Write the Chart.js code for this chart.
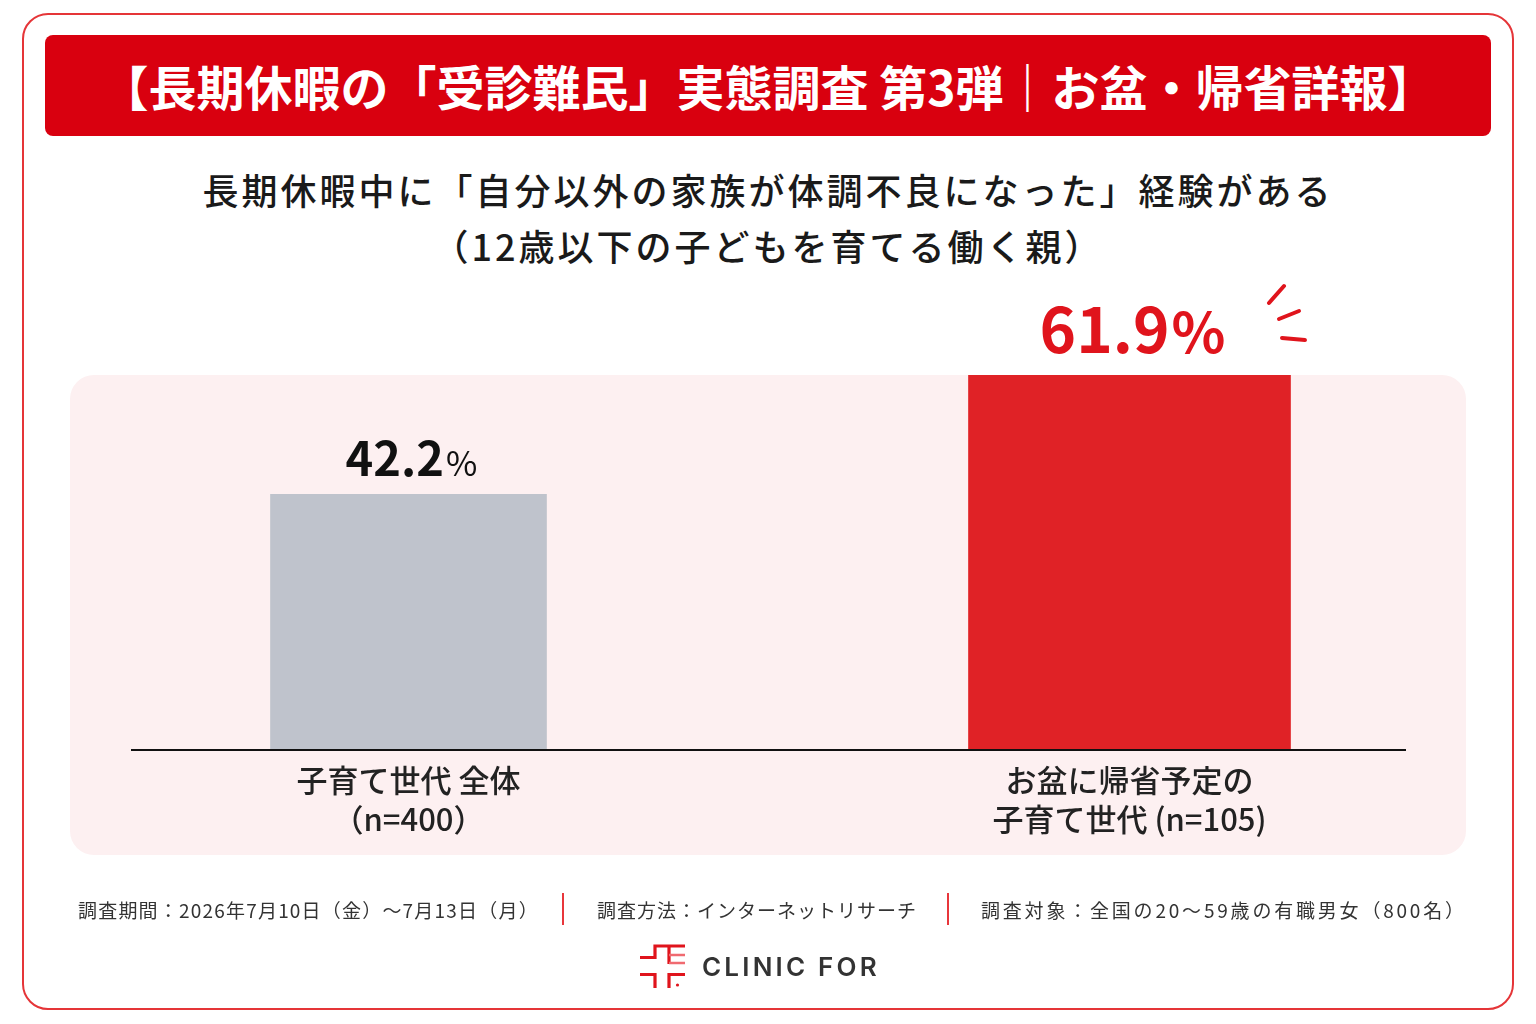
<!DOCTYPE html>
<html lang="ja">
<head>
<meta charset="utf-8">
<script src="https://cdn.jsdelivr.net/npm/chart.js@4.4.1/dist/chart.umd.min.js"></script>
<style>
  html,body{margin:0;padding:0;background:#fff;}
  body{width:1536px;height:1024px;position:relative;overflow:hidden;font-family:"Noto Sans CJK JP","Noto Sans",sans-serif;}
  .frame{position:absolute;left:22px;top:13px;width:1488px;height:993px;border:2px solid #E53538;border-radius:26px;}
  .titlebar{position:absolute;left:45px;top:35px;width:1446px;height:101px;background:#D9000F;border-radius:8px;
    color:#fff;font-weight:700;font-size:48px;line-height:101px;text-align:center;letter-spacing:0px;}
  .sub{position:absolute;left:0;width:1536px;text-align:center;color:#1a1a1a;font-size:36px;font-weight:500;letter-spacing:3px;}
  .panel{position:absolute;left:70px;top:375px;width:1396px;height:480px;background:#FDF0F1;border-radius:24px;}
  #wrap{position:absolute;left:0;top:280px;width:1536px;height:580px;}
  .foot{position:absolute;top:896px;font-size:19px;color:#333;letter-spacing:1px;white-space:nowrap;}
  .sep{position:absolute;top:893px;width:2px;height:32px;background:#E8363B;}
  .logo{position:absolute;left:702px;top:951px;font-family:Inter,Lato,sans-serif;font-weight:600;font-size:26px;letter-spacing:3.2px;color:#333;}
</style>
</head>
<body>
<div class="frame"></div>
<div class="titlebar">【長期休暇の「受診難民」実態調査 第3弾｜お盆・帰省詳報】</div>
<div class="sub" style="top:163px;">長期休暇中に「自分以外の家族が体調不良になった」経験がある</div>
<div class="sub" style="top:219px;">（12歳以下の子どもを育てる働く親）</div>
<div class="panel"></div>
<div id="wrap"><canvas id="c" width="1536" height="580"></canvas></div>
<svg style="position:absolute;left:0;top:0" width="1536" height="1024">
  <g stroke="#E0141C" stroke-width="4" stroke-linecap="round">
    <line x1="1269" y1="303" x2="1284" y2="286"/>
    <line x1="1279" y1="319" x2="1299" y2="311"/>
    <line x1="1282" y1="338" x2="1305" y2="340"/>
  </g>
  <g fill="none" stroke="#E0141C" stroke-width="3.2">
    <polyline points="640,957.5 655,957.5 655,946 685,946"/>
    <polyline points="669,946 669,964"/>
    <polyline points="640,974.5 655,974.5 655,988"/>
    <polyline points="685,974.5 669,974.5 669,988"/>
  </g>
  <g stroke="#F06A70" stroke-width="2.5">
    <line x1="669" y1="955" x2="685" y2="955"/>
    <line x1="669" y1="963" x2="685" y2="963"/>
  </g>
  <circle cx="677.5" cy="985" r="1.6" fill="#E0141C"/>
</svg>
<div class="foot" style="left:78px;letter-spacing:1.2px;">調査期間：2026年7月10日（金）～7月13日（月）</div>
<div class="sep" style="left:562px;"></div>
<div class="foot" style="left:597px;">調査方法：インターネットリサーチ</div>
<div class="sep" style="left:947px;"></div>
<div class="foot" style="left:981px;letter-spacing:2.8px;">調査対象：全国の20～59歳の有職男女（800名）</div>
<div class="logo">CLINIC FOR</div>
<script>
const categories = [["子育て世代 全体","（n=400）"],["お盆に帰省予定の","子育て世代 (n=105)"]];
const overallValues = [42.2, null];
const obonValues = [null, 61.9];
const yMin = 0;
const yMax = 61.9;

const valueLabels = {
  id:'valueLabels',
  afterDatasetsDraw(chart){
    const ctx = chart.ctx;
    const ff = '"Noto Sans CJK JP","Noto Sans",sans-serif';
    chart.data.datasets.forEach((ds,di)=>{
      const meta = chart.getDatasetMeta(di);
      meta.data.forEach((bar,i)=>{
        const v = ds.data[i];
        if(v==null) return;
        const num = v.toFixed(1);
        ctx.save();
        ctx.textBaseline='alphabetic';
        ctx.textAlign='left';
        let f1,f2,col,gap;
        if(di===0){ f1='700 47px '+ff; f2='400 34px '+ff; col='#111'; gap=18; }
        else { f1='700 62px '+ff; f2='700 56px '+ff; col='#E0141C'; gap=22; }
        ctx.font=f1; const w1=ctx.measureText(num).width;
        ctx.font=f2; const w2=ctx.measureText('%').width;
        const x0 = bar.x + 3 - (w1+w2+2)/2;
        const y = bar.y - gap;
        ctx.fillStyle=col;
        ctx.font=f1; ctx.fillText(num,x0,y);
        ctx.font=f2; ctx.fillText('%',x0+w1+2,y);
        ctx.restore();
      });
    });
  }
};
const baseLine = {
  id:'baseLine',
  afterDatasetsDraw(chart){
    const ctx=chart.ctx;
    const y=chart.scales.y.getPixelForValue(0);
    ctx.save();
    ctx.strokeStyle='#111';
    ctx.lineWidth=2;
    ctx.beginPath();
    ctx.moveTo(131,y);ctx.lineTo(1406,y);
    ctx.stroke();
    ctx.restore();
  }
};

new Chart(document.getElementById('c'),{
  type:'bar',
  data:{
    labels:categories,
    datasets:[
      {label:'全体',data:overallValues,backgroundColor:'#BFC3CC',barThickness:276,grouped:false},
      {label:'お盆に帰省予定',data:obonValues,backgroundColor:'#E02226',barThickness:322,grouped:false}
    ]
  },
  options:{
    responsive:false,
    animation:false,
    layout:{padding:{left:48,right:46,top:95,bottom:0}},
    plugins:{legend:{display:false},tooltip:{enabled:false}},
    scales:{
      y:{display:false,min:yMin,max:yMax},
      x:{
        grid:{display:false},
        border:{display:false},
        ticks:{
          color:'#222',
          padding:2,
          maxRotation:0,
          autoSkip:false,
          font:{family:'"Noto Sans CJK JP","Noto Sans",sans-serif',size:31,weight:'500',lineHeight:1.28}
        },
        afterFit(scale){scale.height=110;}
      }
    }
  },
  plugins:[valueLabels,baseLine]
});
</script>
</body>
</html>
